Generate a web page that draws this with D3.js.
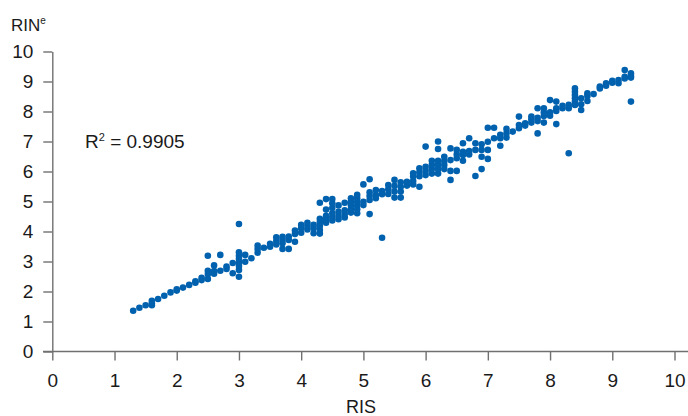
<!DOCTYPE html>
<html>
<head>
<meta charset="utf-8">
<script src="https://cdn.jsdelivr.net/npm/d3@7"></script>
<style>
  html, body { margin: 0; padding: 0; background: #fff; }
  svg { display: block; }
</style>
</head>
<body>
<div id="chart"></div>
<script>

const width = 688, height = 416;

// RIS levels (x) and the RINe readings found at each level (y)
const risLevels = [1.3, 1.4, 1.5, 1.6, 1.7, 1.8, 1.9, 2.0, 2.1, 2.2, 2.3, 2.4, 2.5, 2.6, 2.7, 2.8, 2.9,
  3.0, 3.1, 3.2, 3.3, 3.4, 3.5, 3.6, 3.7, 3.8, 3.9, 4.0, 4.1, 4.2, 4.3, 4.4, 4.5, 4.6, 4.7, 4.8, 4.9,
  5.0, 5.1, 5.2, 5.3, 5.4, 5.5, 5.6, 5.7, 5.8, 5.9, 6.0, 6.1, 6.2, 6.3, 6.4, 6.5, 6.6, 6.7, 6.8, 6.9,
  7.0, 7.1, 7.2, 7.3, 7.4, 7.5, 7.6, 7.7, 7.8, 7.9, 8.0, 8.1, 8.2, 8.3, 8.4, 8.5, 8.6, 8.7, 8.8, 8.9,
  9.0, 9.1, 9.2, 9.3];

const rinByLevel = [
  [1.36], [1.46], [1.54], [1.54, 1.61, 1.69], [1.75], [1.86], [1.97], [2.03, 2.07], [2.13], [2.22],
  [2.29, 2.34], [2.38, 2.46], [2.42, 2.58, 2.69, 3.19], [2.59, 2.68, 2.87], [2.69, 3.22], [2.75, 2.83],
  [2.61, 2.95],
  [2.49, 2.72, 2.85, 2.96, 3.08, 3.19, 3.31, 4.25], [2.99, 3.22], [3.11], [3.29, 3.42, 3.53], [3.46],
  [3.49, 3.59], [3.57, 3.68, 3.81], [3.42, 3.61, 3.72, 3.82], [3.42, 3.72, 3.83], [3.66, 3.92, 4.03],
  [3.96, 4.11, 4.22], [4.07, 4.18, 4.29], [3.94, 4.11, 4.22], [3.93, 4.05, 4.18, 4.31, 4.42, 4.96],
  [4.29, 4.41, 4.52, 4.73, 5.08], [4.37, 4.48, 4.61, 4.78, 4.94, 5.08], [4.41, 4.52, 4.66, 4.87],
  [4.47, 4.59, 4.71, 4.96], [4.63, 4.74, 4.87, 4.99, 5.11], [4.61, 4.74, 4.86, 4.98, 5.11, 5.22],
  [4.88, 4.99, 5.57], [4.58, 5.05, 5.18, 5.31, 5.74], [5.11, 5.22, 5.38], [3.79, 5.24, 5.35],
  [5.25, 5.41, 5.55], [5.13, 5.33, 5.52, 5.72], [5.13, 5.33, 5.49, 5.64], [5.53, 5.66],
  [5.57, 5.68, 5.83, 5.94], [5.49, 5.84, 5.97, 6.11], [5.88, 6.02, 6.16, 6.83], [5.93, 6.08, 6.22, 6.36],
  [5.93, 6.08, 6.22, 6.36, 6.75, 7.0], [6.08, 6.22, 6.35, 6.49], [5.72, 6.02, 6.38, 6.77],
  [6.02, 6.44, 6.57, 6.72], [6.36, 6.55, 6.66, 6.94], [6.57, 6.68, 7.11], [5.85, 6.72, 6.94],
  [6.08, 6.49, 6.72, 6.91],
  [6.42, 6.72, 6.99, 7.46], [7.11, 7.46], [6.86, 7.11, 7.22], [7.13, 7.27, 7.42], [7.33],
  [7.44, 7.55, 7.83], [7.53, 7.61], [7.63, 7.74, 7.83], [7.27, 7.68, 7.79, 8.11], [7.63, 7.85, 7.97, 8.11],
  [7.86, 7.97, 8.38], [7.58, 8.02, 8.11, 8.33], [8.11, 8.19], [6.61, 8.11, 8.22],
  [8.22, 8.33, 8.44, 8.55, 8.66, 8.77], [8.05, 8.24, 8.44], [8.35, 8.52, 8.61], [8.58], [8.77, 8.83],
  [8.86, 8.94], [8.96, 9.02], [8.94, 9.05], [9.1, 9.16, 9.38], [8.33, 9.13, 9.19, 9.27]
];

const xTicks = [0, 1, 2, 3, 4, 5, 6, 7, 8, 9, 10];
const yTicks = [0, 1, 2, 3, 4, 5, 6, 7, 8, 9, 10];
const rSquared = '0.9905';

const data = risLevels.flatMap((x, i) => rinByLevel[i].map(y => ({ ris: x, rin: y })));

const font = 'Liberation Sans, Arial, sans-serif';
const axisColor = '#707070';
const dotColor = '#0061ae';

const xScale = d3.scaleLinear().domain([0, 10]).range([52.3, 674.5]);
const yScale = d3.scaleLinear().domain([0, 10]).range([351.5, 51.5]);

const svg = d3.select('#chart')
  .append('svg')
  .attr('width', width)
  .attr('height', height);

/* Bottom axis */
svg.append('g')
  .attr('transform', `translate(0,${yScale(0)})`)
  .call(d3.axisBottom(xScale).tickValues(xTicks).tickSize(9).tickSizeOuter(0).tickPadding(13))
  .call(ax => ax.select('.domain').attr('d', 'M43,0H688').attr('stroke', axisColor).attr('stroke-width', 1.4))
  .call(ax => ax.selectAll('.tick line').attr('stroke', axisColor).attr('stroke-width', 1.4))
  .selectAll('text')
    .style('font-family', font).style('font-size', '19px').style('fill', '#1a1a1a');

/* Left axis */
svg.append('g')
  .attr('transform', `translate(${xScale(0)},0)`)
  .call(d3.axisLeft(yScale).tickValues(yTicks).tickSize(9).tickSizeOuter(0).tickPadding(10))
  .call(ax => ax.select('.domain').attr('stroke', axisColor).attr('stroke-width', 1.4))
  .call(ax => ax.selectAll('.tick line').attr('stroke', axisColor).attr('stroke-width', 1.4))
  .selectAll('text')
    .style('font-family', font).style('font-size', '19px').style('fill', '#1a1a1a');

/* Points */
svg.append('g')
  .selectAll('circle')
  .data(data).join('circle')
  .attr('cx', d => xScale(d.ris))
  .attr('cy', d => yScale(d.rin))
  .attr('r', 3.3)
  .attr('fill', dotColor);

/* Axis titles */
svg.append('text')
  .attr('x', 361).attr('y', 413)
  .attr('text-anchor', 'middle')
  .attr('font-family', font).attr('font-size', '18px').attr('fill', '#1a1a1a')
  .text('RIS');

const yTitle = svg.append('text')
  .attr('x', 11).attr('y', 31)
  .attr('font-family', font).attr('font-size', '17px').attr('fill', '#1a1a1a');
yTitle.append('tspan').text('RIN');
yTitle.append('tspan').attr('font-size', '10px').attr('dy', -7).text('e');

/* R squared note */
const note = svg.append('text')
  .attr('x', 85).attr('y', 148)
  .attr('font-family', font).attr('font-size', '19px').attr('fill', '#1a1a1a');
note.append('tspan').text('R');
note.append('tspan').attr('font-size', '11px').attr('dy', -7).text('2');
note.append('tspan').attr('dy', 7).text(' = ' + rSquared);

</script>
</body>
</html>
